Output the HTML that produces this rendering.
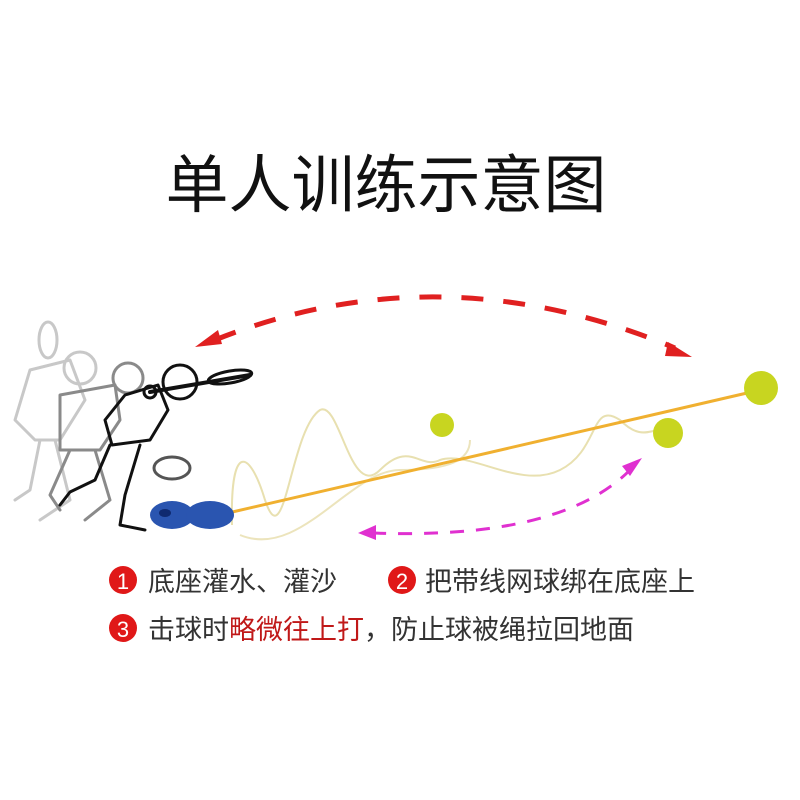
<!DOCTYPE html>
<html><head><meta charset="utf-8"><style>
body{margin:0;background:#fff;}
svg{display:block}
.t{font-family:"Liberation Sans","Noto Sans CJK SC",sans-serif;}
</style></head><body>
<svg width="800" height="800" viewBox="0 0 800 800">
<rect width="800" height="800" fill="#fff"/>
<text class="t" x="386" y="207" font-size="63" text-anchor="middle" fill="#111">单人训练示意图</text>

<path d="M215,340 Q440,250 675,348" fill="none" stroke="#e02020" stroke-width="5" stroke-dasharray="22,20"/>
<polygon points="195,347 218,330 222,344" fill="#e02020"/>
<polygon points="692,357 668,342 665,356" fill="#e02020"/>

<path d="M372,533 Q560,540 630,470" fill="none" stroke="#e030d0" stroke-width="3" stroke-dasharray="14,12"/>
<polygon points="358,533 376,525 376,540" fill="#e030d0"/>
<polygon points="642,458 630,476 622,466" fill="#e030d0"/>

<path d="M232,525 C230,440 250,450 265,500 C285,560 290,430 320,410 C340,400 350,500 380,470 C410,440 420,470 440,460 C470,450 520,490 560,470 C600,450 590,400 620,420 C640,440 650,430 660,430" fill="none" stroke="#e8e0b0" stroke-width="2"/>
<path d="M240,535 C300,560 350,470 400,470 C450,470 470,460 470,440" fill="none" stroke="#ece4bc" stroke-width="2"/>

<g fill="none" stroke-linecap="round" stroke-linejoin="round">
<g stroke="#c8c8c8" stroke-width="3">
<ellipse cx="48" cy="340" rx="9" ry="18"/>
<circle cx="80" cy="368" r="16"/>
<path d="M30,370 L70,360 L85,400 L60,440 L35,440 L15,420 Z"/>
<path d="M40,440 L30,490 L15,500 M55,440 L70,500 L40,520"/>
</g>
<g stroke="#8a8a8a" stroke-width="3">
<circle cx="128" cy="378" r="15"/>
<path d="M60,395 L115,385 L120,420 L100,450 L60,450 Z"/>
<path d="M70,450 L50,495 L60,510 M95,450 L110,500 L85,520"/>
</g>
<g stroke="#111" stroke-width="3">
<circle cx="180" cy="382" r="17"/>
<circle cx="150" cy="392" r="6"/>
<path d="M125,395 L158,385 L168,410 L150,440 L112,445 L105,420 Z"/>
<path d="M110,445 L95,480 L70,492 L60,505 M140,445 L125,495 L120,525 L145,530"/>
<path d="M150,392 L250,375" stroke-width="4"/>
<ellipse cx="230" cy="377" rx="22" ry="6" transform="rotate(-10 230 377)"/>
</g>
<ellipse cx="172" cy="468" rx="18" ry="11" stroke="#555" stroke-width="3"/>
</g>

<line x1="228" y1="513" x2="760" y2="390" stroke="#f0b030" stroke-width="3"/>

<ellipse cx="172" cy="515" rx="22" ry="14" fill="#2a55b0"/>
<ellipse cx="210" cy="515" rx="24" ry="14" fill="#2a55b0"/>
<ellipse cx="165" cy="513" rx="6" ry="4" fill="#0f2a70"/>

<circle cx="761" cy="388" r="17" fill="#c8d520"/>
<circle cx="668" cy="433" r="15" fill="#c8d520"/>
<circle cx="442" cy="425" r="12" fill="#c8d520"/>

<g class="t" font-size="27">
<circle cx="123" cy="580" r="14" fill="#e01818"/>
<text x="123" y="589" font-size="22" fill="#fff" text-anchor="middle">1</text>
<text x="148" y="591" fill="#333">底座灌水、灌沙</text>
<circle cx="402" cy="580" r="14" fill="#e01818"/>
<text x="402" y="589" font-size="22" fill="#fff" text-anchor="middle">2</text>
<text x="425" y="591" fill="#333">把带线网球绑在底座上</text>
<circle cx="123" cy="628" r="14" fill="#e01818"/>
<text x="123" y="637" font-size="22" fill="#fff" text-anchor="middle">3</text>
<text x="148" y="639" fill="#333">击球时<tspan fill="#c01818">略微往上打</tspan>，防止球被绳拉回地面</text>
</g>
</svg>
</body></html>
